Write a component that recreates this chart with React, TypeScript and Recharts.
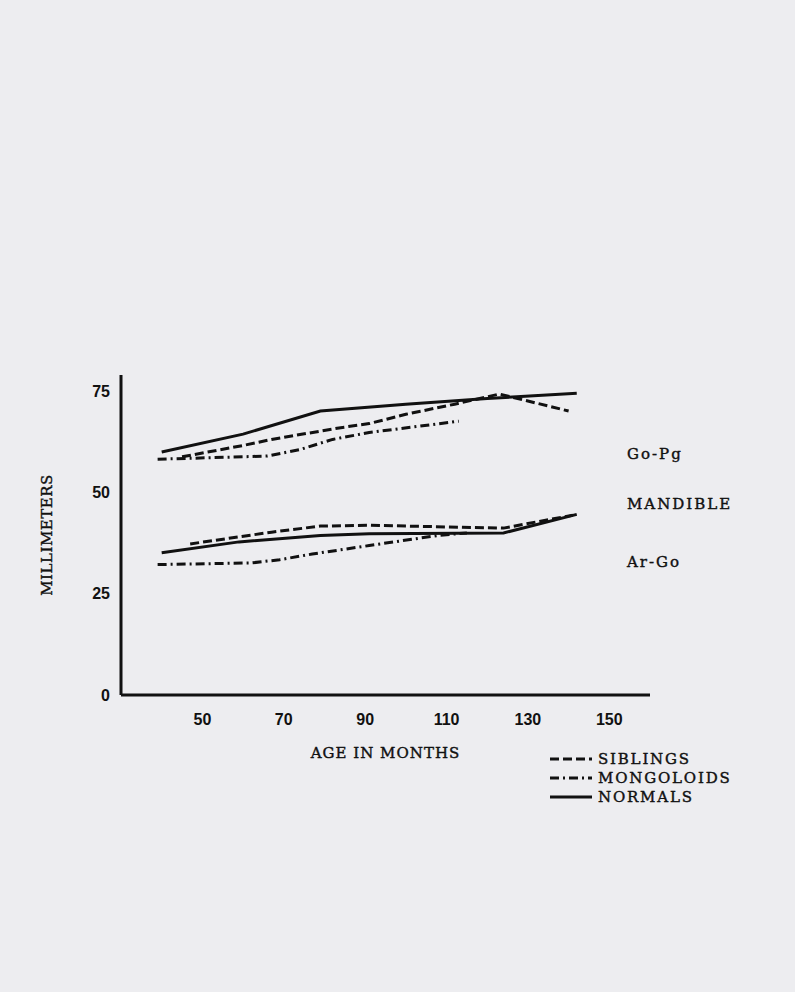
import React from 'react';
import { LineChart, Line, XAxis, YAxis } from 'recharts';

// age in months (x) and millimeters (y)
const ageTicks = [50, 70, 90, 110, 130, 150];
const mmTicks = [0, 25, 50, 75];

const normalsGoPgAge = [40, 60, 79, 100, 120, 142];
const normalsGoPgMm = [60, 64.4, 70.1, 71.8, 73.2, 74.5];

const siblingsGoPgAge = [45, 60, 67, 84, 91, 100, 112, 123, 140];
const siblingsGoPgMm = [58.8, 61.6, 63.1, 66, 67, 69.3, 71.8, 74.3, 70.1];

const mongoloidsGoPgAge = [39, 66, 74, 82, 91, 113];
const mongoloidsGoPgMm = [58.2, 59, 60.6, 63.1, 64.8, 67.6];

const normalsArGoAge = [40, 59, 79, 91, 124, 142];
const normalsArGoMm = [35.1, 37.8, 39.4, 39.8, 40, 44.6];

const siblingsArGoAge = [47, 67, 79, 91, 124, 141];
const siblingsArGoMm = [37.3, 40.2, 41.7, 41.9, 41.2, 44.4];

const mongoloidsArGoAge = [39, 62, 69, 77, 91, 108, 115];
const mongoloidsArGoMm = [32.2, 32.6, 33.4, 34.8, 36.9, 39.4, 40];

const toPoints = (ages: number[], mm: number[]) => ages.map((age, i) => ({ age, mm: mm[i] }));

const ink = '#111111';
const serif = '"DejaVu Serif", serif';
const sans = '"Liberation Sans", Arial, sans-serif';
const dashes = {
  siblings: '9 4',
  mongoloids: '9 4 2 4',
  normals: undefined as string | undefined,
};

const series = [
  { key: 'normalsGoPg', data: toPoints(normalsGoPgAge, normalsGoPgMm), dash: dashes.normals },
  { key: 'siblingsGoPg', data: toPoints(siblingsGoPgAge, siblingsGoPgMm), dash: dashes.siblings },
  { key: 'mongoloidsGoPg', data: toPoints(mongoloidsGoPgAge, mongoloidsGoPgMm), dash: dashes.mongoloids },
  { key: 'normalsArGo', data: toPoints(normalsArGoAge, normalsArGoMm), dash: dashes.normals },
  { key: 'siblingsArGo', data: toPoints(siblingsArGoAge, siblingsArGoMm), dash: dashes.siblings },
  { key: 'mongoloidsArGo', data: toPoints(mongoloidsArGoAge, mongoloidsArGoMm), dash: dashes.mongoloids },
];

const legendItems = [
  { label: 'SIBLINGS', dash: dashes.siblings },
  { label: 'MONGOLOIDS', dash: dashes.mongoloids },
  { label: 'NORMALS', dash: dashes.normals },
];

const sideLabels = [
  { text: 'Go-Pg', top: 445 },
  { text: 'MANDIBLE', top: 495 },
  { text: 'Ar-Go', top: 553 },
];

const tickStyle = { fill: ink, fontSize: 16, fontWeight: 700, fontFamily: sans };
const serifText = { fontFamily: serif, color: ink, WebkitTextStroke: '0.4px #111111' };

export default function App() {
  return (
    <div
      style={{
        position: 'absolute',
        top: 0,
        left: 0,
        width: 795,
        height: 992,
        background: '#ededf0',
        overflow: 'hidden',
      }}
    >
      <LineChart width={795} height={800} margin={{ top: 375, right: 145, bottom: 75, left: 61 }}>
        <XAxis
          dataKey="age"
          type="number"
          domain={[30, 160]}
          ticks={ageTicks}
          allowDataOverflow
          height={30}
          tick={tickStyle}
          tickSize={0}
          tickMargin={19}
          axisLine={{ stroke: ink, strokeWidth: 3 }}
          label={{
            value: 'AGE IN MONTHS',
            position: 'bottom',
            offset: 22,
            style: { fill: ink, stroke: ink, strokeWidth: 0.4, fontSize: 15, fontFamily: serif, letterSpacing: 1 },
          }}
        />
        <YAxis
          type="number"
          domain={[0, 79]}
          ticks={mmTicks}
          width={60}
          tick={tickStyle}
          tickSize={0}
          tickMargin={11}
          axisLine={{ stroke: ink, strokeWidth: 3 }}
          label={{
            value: 'MILLIMETERS',
            angle: -90,
            position: 'left',
            offset: 14,
            style: {
              fill: ink,
              stroke: ink,
              strokeWidth: 0.4,
              fontSize: 15,
              fontFamily: serif,
              letterSpacing: 0.5,
              textAnchor: 'middle',
            },
          }}
        />
        {series.map((s) => (
          <Line
            key={s.key}
            data={s.data}
            dataKey="mm"
            type="linear"
            stroke={ink}
            strokeWidth={3}
            strokeDasharray={s.dash}
            dot={false}
            activeDot={false}
            isAnimationActive={false}
          />
        ))}
      </LineChart>

      {sideLabels.map((l) => (
        <div
          key={l.text}
          style={{ ...serifText, position: 'absolute', left: 627, top: l.top, fontSize: 15, letterSpacing: 2 }}
        >
          {l.text}
        </div>
      ))}

      <div style={{ position: 'absolute', left: 550, top: 749 }}>
        {legendItems.map((item) => (
          <div key={item.label} style={{ display: 'flex', alignItems: 'center', height: 19 }}>
            <svg width={42} height={19}>
              <line x1={0} y1={10} x2={42} y2={10} stroke={ink} strokeWidth={3} strokeDasharray={item.dash} />
            </svg>
            <span style={{ ...serifText, marginLeft: 6, fontSize: 15, letterSpacing: 1.8 }}>{item.label}</span>
          </div>
        ))}
      </div>
    </div>
  );
}
